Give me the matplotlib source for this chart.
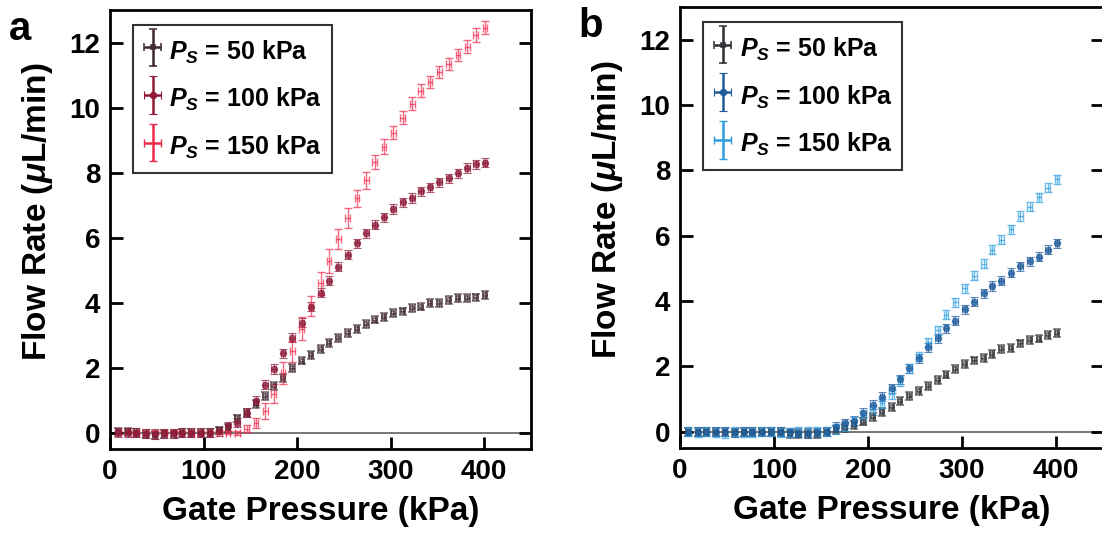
"""Flow rate vs gate pressure, two panels (a: red set, b: blue set)."""
import matplotlib
matplotlib.use("Agg")
import matplotlib.pyplot as plt
from matplotlib.collections import LineCollection
from matplotlib.container import ErrorbarContainer
from matplotlib.legend_handler import HandlerErrorbar
from matplotlib.lines import Line2D

plt.rcParams["font.family"] = ["Liberation Sans", "DejaVu Sans"]
plt.rcParams["font.weight"] = "bold"
plt.rcParams["mathtext.fontset"] = "custom"
plt.rcParams["mathtext.rm"] = "Liberation Sans:bold"
plt.rcParams["mathtext.it"] = "Liberation Sans:bold:italic"
plt.rcParams["mathtext.bf"] = "Liberation Sans:bold"

# gate pressure (kPa), same grid for every series
gate = [9, 19, 28, 38, 48, 58, 68, 77, 87, 97, 107, 117, 126, 136, 146, 156,
        166, 175, 185, 195, 205, 215, 225, 234, 244, 254, 264, 274, 283, 293,
        303, 313, 323, 332, 342, 352, 362, 372, 382, 391, 401]

# panel a
a_50 = [0.03, 0.02, 0.0, -0.05, -0.06, -0.03, -0.03, 0.0, 0.0, 0.0, 0.0,
        0.07, 0.15, 0.44, 0.6, 0.88, 1.12, 1.43, 1.69, 2.0, 2.22, 2.4, 2.57,
        2.77, 2.92, 3.07, 3.19, 3.35, 3.48, 3.56, 3.67, 3.73, 3.83, 3.88, 3.98,
        4.0, 4.07, 4.14, 4.15, 4.16, 4.23]
a_100 = [0.02, 0.01, 0.0, -0.03, -0.04, -0.02, -0.02, 0.0, 0.0, 0.0, 0.0,
         0.04, 0.2, 0.31, 0.62, 0.98, 1.48, 1.96, 2.45, 2.92, 3.38, 3.88, 4.3,
         4.68, 5.1, 5.47, 5.83, 6.14, 6.4, 6.63, 6.88, 7.09, 7.22, 7.42, 7.55,
         7.7, 7.83, 7.98, 8.14, 8.25, 8.31]
a_150 = [0.0, 0.0, 0.0, 0.0, 0.0, 0.0, 0.0, 0.0, 0.0, 0.0, 0.0,
         0.0, 0.0, 0.0, 0.13, 0.31, 0.66, 1.2, 1.84, 2.5, 3.2, 3.89, 4.59,
         5.28, 5.96, 6.6, 7.21, 7.76, 8.32, 8.8, 9.23, 9.69, 10.11, 10.51, 10.79,
         11.1, 11.35, 11.62, 11.87, 12.23, 12.46]
a_150_err = [0.05, 0.05, 0.05, 0.05, 0.05, 0.05, 0.05, 0.05, 0.05, 0.05, 0.05,
             0.05, 0.05, 0.06, 0.1, 0.15, 0.25, 0.3, 0.35, 0.32, 0.36, 0.3, 0.35,
             0.38, 0.3, 0.3, 0.26, 0.25, 0.22, 0.22, 0.2, 0.2, 0.2, 0.2, 0.18,
             0.18, 0.18, 0.18, 0.2, 0.22, 0.2]

# panel b
b_50 = [0.0, 0.0, 0.0, 0.0, -0.02, -0.04, 0.0, -0.02, 0.0, 0.0, -0.02,
        -0.06, -0.08, -0.08, -0.06, 0.0, 0.05, 0.1, 0.2, 0.31, 0.46, 0.6, 0.76,
        0.93, 1.1, 1.25, 1.41, 1.58, 1.75, 1.93, 2.08, 2.18, 2.25, 2.39, 2.52,
        2.57, 2.7, 2.8, 2.85, 2.96, 3.03]
b_100 = [0.0, 0.0, 0.0, 0.0, 0.0, -0.02, 0.0, 0.0, 0.0, 0.0, 0.0,
         -0.02, -0.03, -0.04, -0.02, 0.0, 0.15, 0.26, 0.34, 0.58, 0.82, 1.07, 1.33,
         1.61, 1.94, 2.25, 2.58, 2.86, 3.17, 3.4, 3.75, 3.98, 4.24, 4.46, 4.62,
         4.87, 5.06, 5.21, 5.36, 5.57, 5.77]
b_150 = [0.0, -0.03, 0.0, -0.03, -0.04, 0.0, -0.03, -0.03, 0.0, 0.0, -0.03,
         -0.03, 0.0, 0.0, 0.0, 0.0, 0.08, 0.15, 0.3, 0.5, 0.66, 0.87, 1.15,
         1.55, 1.94, 2.3, 2.74, 3.1, 3.58, 3.96, 4.39, 4.77, 5.14, 5.57, 5.87,
         6.2, 6.6, 6.88, 7.18, 7.47, 7.72]

labels = ["$P_S$ = 50 kPa", "$P_S$ = 100 kPa", "$P_S$ = 150 kPa"]
x_err = 2.5
y_err = [0.12, 0.14]

red_colors = ["#3d2630", "#8e1a38", "#ee2a4c"]
blue_colors = ["#2e2e33", "#1f5c9c", "#2f9ee0"]


def draw_panel(ax, series, colors, tag):
    ax.axhline(0, color="#606060", lw=1.2, zorder=1)
    styles = [dict(marker="s", ms=3.5, mfc="none", mew=1.1),
              dict(marker="o", ms=4.5, mew=0.8),
              dict(marker="", ms=0)]
    handles = []
    for k, (vals, err) in enumerate(series):
        h = ax.errorbar(gate, vals, yerr=err, xerr=x_err, ls="none",
                        color=colors[k], ecolor=colors[k], elinewidth=1.0,
                        capsize=3, capthick=1.0, alpha=0.7, zorder=3,
                        label=labels[k], **styles[k])
        handles.append(h)
    ax.set_xlim(0, 450)
    ax.set_ylim(-0.5, 13)
    ax.set_xticks([0, 100, 200, 300, 400])
    ax.set_yticks([0, 2, 4, 6, 8, 10, 12])
    ax.tick_params(direction="in", length=9, width=2, labelsize=20,
                   right=True, top=False, pad=7)
    for s in ax.spines.values():
        s.set_linewidth(2)
    ax.set_xlabel("Gate Pressure (kPa)", fontsize=24, fontweight="bold",
                  labelpad=8)
    ax.set_ylabel("Flow Rate ($\\mu$L/min)", fontsize=24, fontweight="bold")
    ax.yaxis.set_label_coords(-0.13, 0.54)
    leg = ax.legend(handles=handles, loc="upper left",
                    bbox_to_anchor=(0.055, 0.965), borderaxespad=0,
                    fontsize=18, frameon=True, fancybox=False, edgecolor="black",
                    handlelength=0.75, handleheight=1.6, handletextpad=0.3,
                    labelspacing=0.62, borderpad=0.4,
                    handler_map={ErrorbarContainer:
                                 HandlerErrorbar(xerr_size=0.35, yerr_size=0.75)})
    leg.get_frame().set_linewidth(1.5)
    # legend symbols are drawn opaque in the original
    for art in leg.findobj(lambda o: isinstance(o, (Line2D, LineCollection))):
        art.set_alpha(1)
        if isinstance(art, LineCollection):
            art.set_linewidth(1.8)
    ax.text(-0.24, 1.0, tag, transform=ax.transAxes, fontsize=29,
            fontweight="bold", va="top", ha="left")


fig = plt.figure(figsize=(11.02, 5.34), dpi=100)
ax_a = fig.add_axes([110 / 1102, 85 / 534, 421 / 1102, 439 / 534])
ax_b = fig.add_axes([680 / 1102, 86 / 534, 423 / 1102, 441 / 534])

draw_panel(ax_a, [(a_50, y_err[0]), (a_100, y_err[1]), (a_150, a_150_err)],
           red_colors, "a")
draw_panel(ax_b, [(b_50, y_err[0]), (b_100, y_err[1]), (b_150, y_err[1])],
           blue_colors, "b")

fig.savefig("out.png", dpi=100)
